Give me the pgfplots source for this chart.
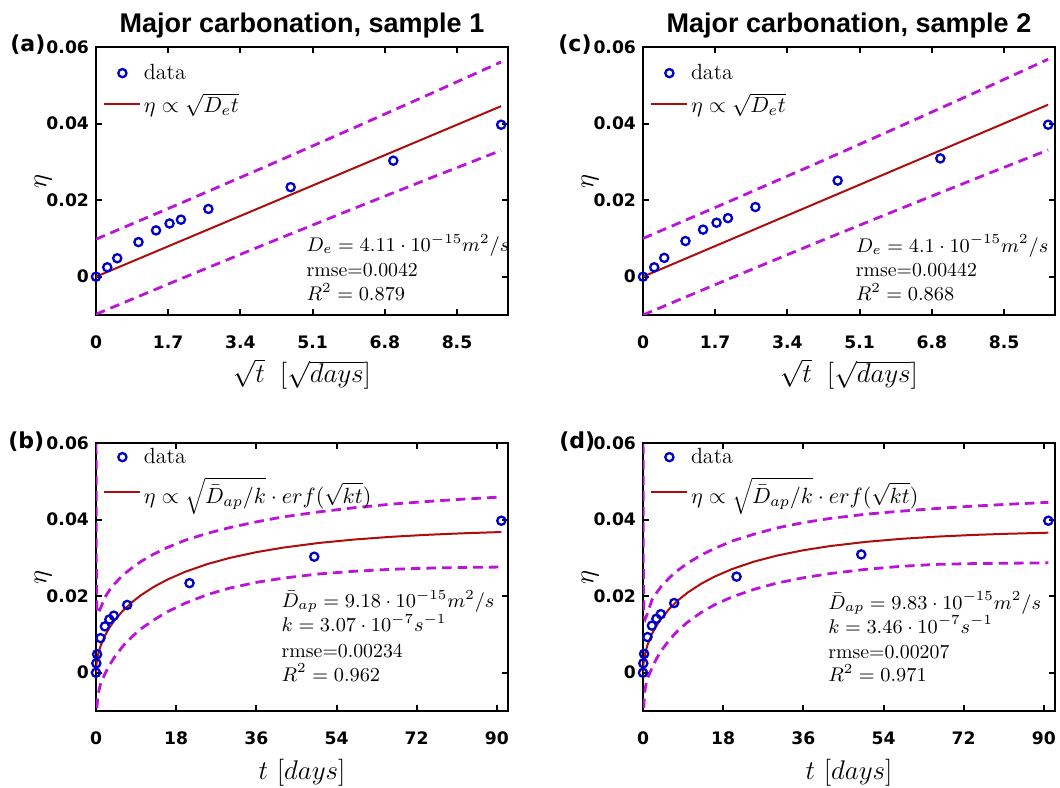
\RequirePackage{fix-cm}
\documentclass[border=0pt]{standalone}
\usepackage{fontspec}
\usepackage{pgfplots}
\usepackage{pgfplotstable}
\pgfplotsset{compat=1.18}
\newfontfamily\dvs{DejaVu Sans}
\newfontfamily\lib{Liberation Sans}
\definecolor{mblue}{rgb}{0,0,0.8}
\definecolor{mred}{rgb}{0.68,0.05,0.05}
\definecolor{mmag}{rgb}{0.73,0.08,0.85}

% observations: sqrt(t), t [days], eta sample 1, eta sample 2
\pgfplotstableread{
st t e1 e2
0 0 0 0
0.265 0.07 0.00246 0.00246
0.5 0.25 0.00482 0.00492
1 1 0.00904 0.00932
1.414 2 0.0121 0.0123
1.732 3 0.0139 0.0141
2 4 0.0149 0.0153
2.646 7 0.0177 0.0182
4.583 21 0.0234 0.0251
7 49 0.0303 0.0309
9.539 91 0.0397 0.0397
}\obs

\pgfplotstableread{
x fit up lo
0 0 0.0098 -0.0098
2 0.00934 0.01922 -0.00054
4 0.01868 0.0288 0.00856
6 0.02802 0.03853 0.01751
8 0.03736 0.0484 0.02632
9.539 0.04455 0.0561 0.0330
}\bandA

\pgfplotstableread{
x fit up lo
0 0 0.0100 -0.0100
2 0.00942 0.01951 -0.00067
4 0.01884 0.02918 0.0085
6 0.02826 0.03902 0.0175
8 0.03768 0.04899 0.02637
9.539 0.04493 0.0568 0.0331
}\bandC

\pgfplotstableread{
x fit up lo
0 0 0.08 -0.05
0.05 0.00155 0.03 -0.02
0.2 0.0031 0.016 -0.009
0.5 0.00489 0.0155 -0.0055
1 0.00689 0.0168 -0.003
2 0.00965 0.0197 -0.0003
3 0.01172 0.0215 0.0019
4 0.01342 0.0230 0.0038
6 0.01615 0.0255 0.0069
8 0.01834 0.0273 0.0093
10 0.02017 0.0290 0.0114
13 0.02244 0.0310 0.0138
16 0.02431 0.0327 0.0159
20 0.02635 0.0346 0.01815
25 0.02838 0.0364 0.0204
30 0.02998 0.0379 0.0221
36 0.03149 0.0394 0.0236
42 0.03267 0.0407 0.0247
50 0.03389 0.0420 0.0258
58 0.03479 0.0431 0.0265
66 0.03548 0.0440 0.0270
74 0.03600 0.0447 0.0273
82 0.03640 0.0453 0.0275
91 0.03675 0.0459 0.0276
}\curveB

\pgfplotstableread{
x fit up lo
0 0 0.08 -0.05
0.05 0.00163 0.03 -0.02
0.2 0.00326 0.015 -0.008
0.5 0.00512 0.014 -0.004
1 0.00721 0.0155 -0.0015
2 0.01009 0.0190 0.0012
3 0.01224 0.0208 0.0036
4 0.01399 0.0224 0.0056
6 0.01681 0.0249 0.0087
8 0.01905 0.0269 0.0112
10 0.02091 0.0286 0.0132
13 0.02320 0.0307 0.0157
16 0.02506 0.0324 0.0177
20 0.02708 0.0344 0.0198
25 0.02904 0.0362 0.0218
30 0.03057 0.0378 0.0234
36 0.03199 0.0392 0.0248
42 0.03308 0.0403 0.0259
50 0.03417 0.0414 0.0270
58 0.03497 0.0422 0.0278
66 0.03555 0.0429 0.0283
74 0.03598 0.0435 0.0285
82 0.03630 0.0440 0.0286
91 0.03657 0.0445 0.0287
}\curveD

\pgfplotsset{
 panel/.style={
  scale only axis, width=206pt, height=134pt, anchor=south west,
  ymin=-0.01, ymax=0.06, ytick={0,0.02,0.04,0.06}, yticklabels={0,0.02,0.04,0.06},
  scaled y ticks=false, scaled x ticks=false,
  xtick pos=both, ytick pos=both, xticklabel pos=lower, yticklabel pos=left,
  tick align=inside, major tick length=3pt, minor tick num=0,
  every tick/.style={black, line width=1pt},
  axis line style={line width=1.3pt},
  tick label style={font=\dvs\bfseries\fontsize{8.6pt}{10pt}\selectfont},
  xticklabel style={yshift=-7pt},
  label style={font=\fontsize{13.5pt}{16pt}\selectfont},
  ylabel={$\eta$},
  ylabel style={at={(axis description cs:-0.128,0.5)}, anchor=center},
  title style={font=\lib\bfseries\fontsize{13.5pt}{16pt}\selectfont, at={(axis description cs:0.5,1)}, anchor=base, yshift=1.5pt},
  legend style={draw=none, fill=none, at={(axis description cs:0,1)}, anchor=north west,
    inner sep=0pt, font=\fontsize{11pt}{13pt}\selectfont, nodes={inner sep=1.3pt}, row sep=3pt},
  legend cell align=left,
  legend image code/.code={\draw[mark repeat=2,mark phase=2,#1] plot coordinates {(0pt,0pt) (9pt,0pt) (18pt,0pt)};},
 },
 obsstyle/.style={only marks, mark=o, mblue, mark size=2.05pt, mark options={line width=1.15pt}},
 fitstyle/.style={mred, line width=1pt},
 bandstyle/.style={mmag, line width=1.4pt, dash pattern=on 4.8pt off 3pt, forget plot},
}
\tikzset{anno/.style={anchor=base west, font=\fontsize{9.9pt}{12pt}\selectfont, inner sep=0pt}}

\begin{document}
\begin{tikzpicture}
\useasboundingbox (0,0) rectangle (530pt,393.5pt);

% (a)
\begin{axis}[panel, at={(48pt,236pt)}, xmin=0, xmax=9.7,
  xtick={0,1.7,3.4,5.1,6.8,8.5}, xticklabels={0,1.7,3.4,5.1,6.8,8.5},
  title={Major carbonation, sample 1},
  xlabel={$\sqrt{t}\;\;[\sqrt{days}]$},
  xlabel style={at={(axis description cs:0.5,0)}, anchor=base, yshift=-34pt},
  legend style={xshift=3.5pt, yshift=-7pt}]
\addplot[obsstyle] table[x=st,y=e1]{\obs};
\addplot[fitstyle] table[x=x,y=fit]{\bandA};
\addplot[bandstyle] table[x=x,y=up]{\bandA};
\addplot[bandstyle] table[x=x,y=lo]{\bandA};
\legend{data, $\eta\propto\sqrt{D_e t}$}
\node[anno] at (axis cs:4.95,0.0066) {$D_e=4.11\cdot10^{-15}m^2/s$};
\node[anno] at (axis cs:4.95,0.0001) {rmse=0.0042};
\node[anno] at (axis cs:4.95,-0.0062) {$R^2=0.879$};
\end{axis}

% (c)
\begin{axis}[panel, at={(321.5pt,236pt)}, xmin=0, xmax=9.7,
  xtick={0,1.7,3.4,5.1,6.8,8.5}, xticklabels={0,1.7,3.4,5.1,6.8,8.5},
  title={Major carbonation, sample 2},
  xlabel={$\sqrt{t}\;\;[\sqrt{days}]$},
  xlabel style={at={(axis description cs:0.5,0)}, anchor=base, yshift=-34pt},
  legend style={xshift=3.5pt, yshift=-7pt}]
\addplot[obsstyle] table[x=st,y=e2]{\obs};
\addplot[fitstyle] table[x=x,y=fit]{\bandC};
\addplot[bandstyle] table[x=x,y=up]{\bandC};
\addplot[bandstyle] table[x=x,y=lo]{\bandC};
\legend{data, $\eta\propto\sqrt{D_e t}$}
\node[anno] at (axis cs:5.0,0.0064) {$D_e=4.1\cdot10^{-15}m^2/s$};
\node[anno] at (axis cs:5.0,0.0) {rmse=0.00442};
\node[anno] at (axis cs:5.0,-0.0062) {$R^2=0.868$};
\end{axis}

% (b)
\begin{axis}[panel, at={(48pt,38pt)}, xmin=0, xmax=92.5,
  xtick={0,18,36,54,72,90}, xticklabels={0,18,36,54,72,90},
  xlabel={$t\ [days]$},
  xlabel style={at={(axis description cs:0.5,0)}, anchor=base, yshift=-34pt},
  legend style={xshift=3.5pt, yshift=-1pt}]
\addplot[obsstyle] table[x=t,y=e1]{\obs};
\addplot[fitstyle] table[x=x,y=fit]{\curveB};
\addplot[bandstyle] table[x=x,y=up]{\curveB};
\addplot[bandstyle] table[x=x,y=lo]{\curveB};
\legend{data, $\eta\propto\sqrt{\bar{D}_{ap}/k}\cdot erf(\sqrt{kt})$}
\node[anno] at (axis cs:41.6,0.0170) {$\bar{D}_{ap}=9.18\cdot10^{-15}m^2/s$};
\node[anno] at (axis cs:41.6,0.0107) {$k=3.07\cdot10^{-7}s^{-1}$};
\node[anno] at (axis cs:41.6,0.0040) {rmse=0.00234};
\node[anno] at (axis cs:41.6,-0.0022) {$R^2=0.962$};
\end{axis}

% (d)
\begin{axis}[panel, at={(321.5pt,38pt)}, xmin=0, xmax=92.5,
  xtick={0,18,36,54,72,90}, xticklabels={0,18,36,54,72,90},
  xlabel={$t\ [days]$},
  xlabel style={at={(axis description cs:0.5,0)}, anchor=base, yshift=-34pt},
  legend style={xshift=3.5pt, yshift=-1pt}]
\addplot[obsstyle] table[x=t,y=e2]{\obs};
\addplot[fitstyle] table[x=x,y=fit]{\curveD};
\addplot[bandstyle] table[x=x,y=up]{\curveD};
\addplot[bandstyle] table[x=x,y=lo]{\curveD};
\legend{data, $\eta\propto\sqrt{\bar{D}_{ap}/k}\cdot erf(\sqrt{kt})$}
\node[anno] at (axis cs:41.5,0.0166) {$\bar{D}_{ap}=9.83\cdot10^{-15}m^2/s$};
\node[anno] at (axis cs:41.5,0.0103) {$k=3.46\cdot10^{-7}s^{-1}$};
\node[anno] at (axis cs:41.5,0.0038) {rmse=0.00207};
\node[anno] at (axis cs:41.5,-0.0024) {$R^2=0.971$};
\end{axis}

% panel letters
\node[anchor=base west, inner sep=0pt, font=\dvs\bfseries\fontsize{11pt}{13pt}\selectfont] at (5pt,367.5pt) {(a)};
\node[anchor=base west, inner sep=0pt, font=\dvs\bfseries\fontsize{11pt}{13pt}\selectfont] at (279pt,367.5pt) {(c)};
\node[anchor=base west, inner sep=0pt, font=\dvs\bfseries\fontsize{11pt}{13pt}\selectfont] at (4pt,169pt) {(b)};
\node[anchor=base west, inner sep=0pt, font=\dvs\bfseries\fontsize{11pt}{13pt}\selectfont] at (279.5pt,169pt) {(d)};
\end{tikzpicture}
\end{document}
